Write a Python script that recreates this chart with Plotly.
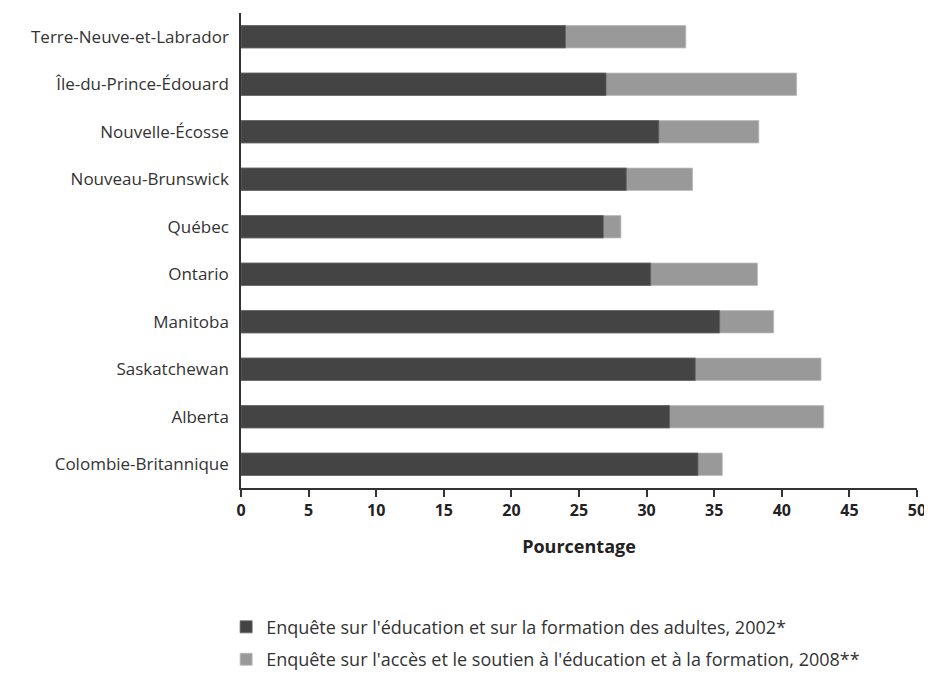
import plotly.graph_objects as go

provinces = ["Terre-Neuve-et-Labrador", "Île-du-Prince-Édouard", "Nouvelle-Écosse",
             "Nouveau-Brunswick", "Québec", "Ontario", "Manitoba", "Saskatchewan",
             "Alberta", "Colombie-Britannique"]
eefa_2002 = [24.0, 27.0, 30.9, 28.5, 26.8, 30.3, 35.4, 33.6, 31.7, 33.8]
easef_2008 = [32.9, 41.1, 38.3, 33.4, 28.1, 38.2, 39.4, 42.9, 43.1, 35.6]
x_ticks = [0, 5, 10, 15, 20, 25, 30, 35, 40, 45, 50]

name_2002 = "Enquête sur l'éducation et sur la formation des adultes, 2002*"
name_2008 = "Enquête sur l'accès et le soutien à l'éducation et à la formation, 2008**"

FONT = "'Open Sans', 'DejaVu Sans', sans-serif"

fig = go.Figure()
fig.add_trace(go.Bar(
    y=provinces, x=easef_2008, orientation="h", name=name_2008,
    legendgroup="b", legendrank=2,
    marker=dict(color="#999999", line=dict(color="#bbbbbb", width=0.8)),
    width=0.47,
))
fig.add_trace(go.Bar(
    y=provinces, x=eefa_2002, orientation="h", name=name_2002,
    legendgroup="a", legendrank=1,
    marker=dict(color="#444444", line=dict(color="#666666", width=0.8)),
    width=0.47,
))

# page body has an 8px default margin, so the figure is sized to fit inside the window
fig.update_layout(
    width=924, height=667,
    barmode="overlay",
    plot_bgcolor="white", paper_bgcolor="white",
    margin=dict(l=233, r=15, t=5, b=187, autoexpand=False),
    font=dict(family=FONT, color="#333333", size=16),
    showlegend=True,
    legend=dict(
        x=-0.022, xanchor="left", y=-0.254, yanchor="top",
        traceorder="grouped", tracegroupgap=6,
        font=dict(size=18, color="#333333"),
    ),
    xaxis=dict(
        range=[0, 50], tickvals=x_ticks, ticktext=[str(v) for v in x_ticks],
        showline=True, linecolor="#333333", linewidth=1.5,
        ticks="outside", ticklen=7, tickwidth=1.5, tickcolor="#333333",
        showgrid=False, zeroline=False, automargin=False,
        tickfont=dict(size=16, color="#222222", family=FONT, weight="bold"),
        title=dict(text="<b>Pourcentage</b>", font=dict(size=18, color="#222222"), standoff=20),
    ),
    yaxis=dict(
        categoryorder="array", categoryarray=provinces,
        autorange="reversed", automargin=False,
        showline=True, linecolor="#333333", linewidth=1.5,
        ticks="", showgrid=False, zeroline=False,
        ticklabelstandoff=7,
        tickfont=dict(size=17, color="#333333"),
    ),
)

fig.write_html("out.html")
